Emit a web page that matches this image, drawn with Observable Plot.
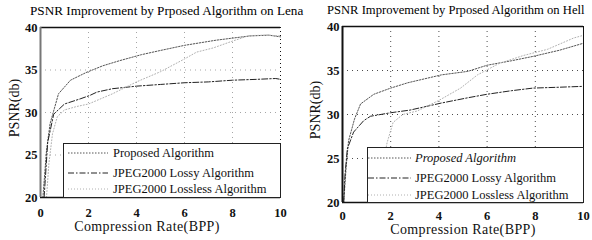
<!DOCTYPE html>
<html><head><meta charset="utf-8">
<script src="https://cdn.jsdelivr.net/npm/d3@7"></script>
<script src="https://cdn.jsdelivr.net/npm/@observablehq/plot@0.6"></script>
<style>
body{margin:0;background:#fff;}
#wrap{position:relative;width:592px;height:240px;overflow:hidden;font-family:"Liberation Serif","Times New Roman","DejaVu Serif",serif;color:#111;}
.abs{position:absolute;white-space:nowrap;}
.c{transform:translate(-50%,-50%);}
.rot{transform:translate(-50%,-50%) rotate(-90deg);}
.legend{position:absolute;box-sizing:border-box;border:1px solid #222;background:#fff;}
.row{position:absolute;white-space:nowrap;font-size:12.5px;transform:translateY(-50%);}
</style></head><body><div id="wrap"></div>
<script>
// ---- data ----
const titles = ["PSNR Improvement by Prposed Algorithm on Lena", "PSNR Improvement by Prposed Algorithm on Hell"];
const xLabel = "Compression Rate(BPP)";
const yLabel = "PSNR(db)";
const seriesNames = ["Proposed Algorithm", "JPEG2000 Lossy Algorithm", "JPEG2000 Lossless Algorithm"];
const xDomain = [0, 10];
const yDomain = [20, 40];
const xTicks = [0, 2, 4, 6, 8, 10];
const yTicks = [20, 25, 30, 35, 40];
const gridXValues = [2, 4, 6, 8];
const gridYValues = [25, 30, 35];

// Lena panel
const lenaProposedX = [0.1, 0.25, 0.4, 0.75, 1.25, 1.9, 2.6, 3.3, 4.2, 5.0, 6.0, 7.3, 8.7, 9.5, 10];
const lenaProposedY = [20, 25.5, 28.7, 32.2, 33.8, 34.7, 35.5, 36.1, 36.8, 37.3, 37.9, 38.5, 39.0, 39.1, 38.9];
const lenaLossyX = [0.15, 0.3, 0.55, 1.0, 1.65, 2.05, 2.35, 3.0, 4.0, 5.0, 6.0, 7.0, 8.0, 9.0, 9.8, 10];
const lenaLossyY = [20, 26.5, 29.8, 31.0, 31.6, 32.0, 32.4, 32.8, 33.1, 33.3, 33.5, 33.6, 33.8, 33.9, 34.0, 33.9];
const lenaLosslessX = [0.25, 0.35, 0.5, 0.7, 1.0, 1.5, 2.0, 3.0, 4.0, 5.0, 6.0, 6.5, 7.2, 8.0, 8.7, 9.5, 10];
const lenaLosslessY = [20, 24, 27.5, 29.5, 30.3, 30.7, 31.0, 32.2, 33.6, 34.8, 36.3, 37.1, 37.6, 38.4, 39.05, 39.1, 39.0];

// Hell panel
const hellProposedX = [0.05, 0.15, 0.25, 0.5, 0.75, 1.3, 2.0, 2.7, 4.1, 5.2, 6.0, 7.0, 7.9, 9.0, 10];
const hellProposedY = [20, 24, 27.0, 29.5, 31.2, 32.3, 33.0, 33.6, 34.5, 34.9, 35.6, 36.1, 36.6, 37.3, 38.1];
const hellLossyX = [0.05, 0.1, 0.2, 0.46, 0.88, 1.16, 2.0, 2.8, 4.1, 5.2, 6.0, 7.0, 7.9, 9.0, 10];
const hellLossyY = [20, 23, 26.1, 28.0, 29.3, 29.8, 30.2, 30.5, 31.3, 31.9, 32.3, 32.7, 33.0, 33.1, 33.2];
const hellLosslessX = [1.3, 1.55, 1.85, 2.1, 2.5, 3.1, 4.0, 4.9, 5.6, 6.5, 7.5, 8.5, 9.6, 10];
const hellLosslessY = [20, 22.5, 26.8, 29.1, 30.0, 30.4, 31.6, 33.0, 34.5, 35.8, 36.7, 37.4, 38.7, 39.0];

// ---- styles ----
const seriesStyle = [
  {stroke: "#555", strokeDasharray: "1.5,1.5", strokeWidth: 1},
  {stroke: "#222", strokeDasharray: "6,2,1.5,2", strokeWidth: 1},
  {stroke: "#b0b0b0", strokeDasharray: "1,2", strokeWidth: 1}
];

const toRows = (xs, ys) => xs.map((x, i) => ({x, y: ys[i]}));

const wrap = document.getElementById("wrap");

function addText(txt, left, top, cls, style) {
  const d = document.createElement("div");
  d.className = "abs " + (cls || "");
  d.textContent = txt;
  d.style.left = left + "px";
  d.style.top = top + "px";
  Object.assign(d.style, style || {});
  wrap.appendChild(d);
  return d;
}

function panel(cfg) {
  const series = [
    toRows(cfg.px, cfg.py),
    toRows(cfg.lx, cfg.ly),
    toRows(cfg.llx, cfg.lly)
  ];
  const chart = Plot.plot({
    width: cfg.width, height: 240,
    marginLeft: cfg.ml, marginRight: cfg.mr, marginTop: cfg.mt, marginBottom: cfg.mb,
    style: {fontFamily: "'Liberation Serif','Times New Roman','DejaVu Serif',serif", fontSize: "12.5px", fontWeight: "bold", background: "transparent", color: "#111", overflow: "visible"},
    x: {domain: xDomain, ticks: xTicks, tickSize: 0, tickPadding: cfg.xpad, label: null},
    y: {domain: yDomain, ticks: yTicks, tickSize: 0, tickPadding: 3, label: null},
    marks: [
      Plot.gridX(gridXValues, {stroke: "#000", strokeOpacity: cfg.gridOp, strokeDasharray: "1,4"}),
      Plot.gridY(gridYValues, {stroke: "#000", strokeOpacity: cfg.gridOp, strokeDasharray: "1,4"}),
      ...series.map((s, i) => Plot.line(s, {x: "x", y: "y", ...seriesStyle[i]})),
      Plot.ruleY([yDomain[1]], {stroke: "#111", strokeWidth: 1.5}),
      Plot.ruleY([yDomain[0]], {stroke: "#111", strokeWidth: 1.5}),
      Plot.ruleX([xDomain[0]], {stroke: cfg.leftColor, strokeWidth: 2}),
      Plot.ruleX([xDomain[1]], {stroke: "#111", strokeWidth: 1, strokeDasharray: cfg.rightDash})
    ]
  });
  const holder = document.createElement("div");
  holder.style.position = "absolute";
  holder.style.left = cfg.left + "px";
  holder.style.top = "0px";
  holder.appendChild(chart);
  wrap.appendChild(holder);
}

panel({left: 0, width: 292, ml: 40, mr: 12, mt: 27, mb: 43, xpad: 11, gridOp: 0.35, leftColor: "#777", rightDash: "1,3",
  px: lenaProposedX, py: lenaProposedY, lx: lenaLossyX, ly: lenaLossyY, llx: lenaLosslessX, lly: lenaLosslessY});
panel({left: 296, width: 296, ml: 46, mr: 9, mt: 26, mb: 38, xpad: 9, gridOp: 0.7, leftColor: "#111", rightDash: null,
  px: hellProposedX, py: hellProposedY, lx: hellLossyX, ly: hellLossyY, llx: hellLosslessX, lly: hellLosslessY});

// titles & axis labels
addText(titles[0], 30, 3, "", {fontSize: "13.2px", color: "#000"});
addText(titles[1], 327, 3, "", {fontSize: "12.6px", color: "#000"});
addText(yLabel, 15, 108, "rot", {fontSize: "14px"});
addText(yLabel, 316, 110, "rot", {fontSize: "14px"});
addText(xLabel, 147, 227, "c", {fontSize: "14px", letterSpacing: "0.4px"});
addText(xLabel, 463, 230, "c", {fontSize: "14px", letterSpacing: "0.4px"});

// legends
function legend(cfg) {
  const box = document.createElement("div");
  box.className = "legend";
  Object.assign(box.style, {left: cfg.left + "px", top: cfg.top + "px", width: cfg.w + "px", height: cfg.h + "px"});
  seriesNames.forEach((name, i) => {
    const y = cfg.rows[i];
    const svgNS = "http://www.w3.org/2000/svg";
    const svg = document.createElementNS(svgNS, "svg");
    svg.setAttribute("width", cfg.sampleW);
    svg.setAttribute("height", 6);
    svg.style.position = "absolute";
    svg.style.left = cfg.sampleX + "px";
    svg.style.top = (y - 3) + "px";
    const ln = document.createElementNS(svgNS, "line");
    ln.setAttribute("x1", 0); ln.setAttribute("x2", cfg.sampleW);
    ln.setAttribute("y1", 3); ln.setAttribute("y2", 3);
    ln.setAttribute("stroke", seriesStyle[i].stroke);
    ln.setAttribute("stroke-dasharray", seriesStyle[i].strokeDasharray);
    ln.setAttribute("stroke-width", 1);
    svg.appendChild(ln);
    box.appendChild(svg);
    const t = document.createElement("div");
    t.className = "row";
    t.textContent = name;
    t.style.left = cfg.textX + "px";
    t.style.top = y + "px";
    if (cfg.italicFirst && i === 0) t.style.fontStyle = "italic";
    box.appendChild(t);
  });
  wrap.appendChild(box);
}
legend({left: 63, top: 143, w: 218, h: 55, rows: [9, 29, 45], textX: 49, sampleX: 4, sampleW: 40, italicFirst: false});
legend({left: 367, top: 147, w: 217, h: 56, rows: [10, 30, 47], textX: 47, sampleX: 0, sampleW: 43, italicFirst: true});
</script></body></html>
